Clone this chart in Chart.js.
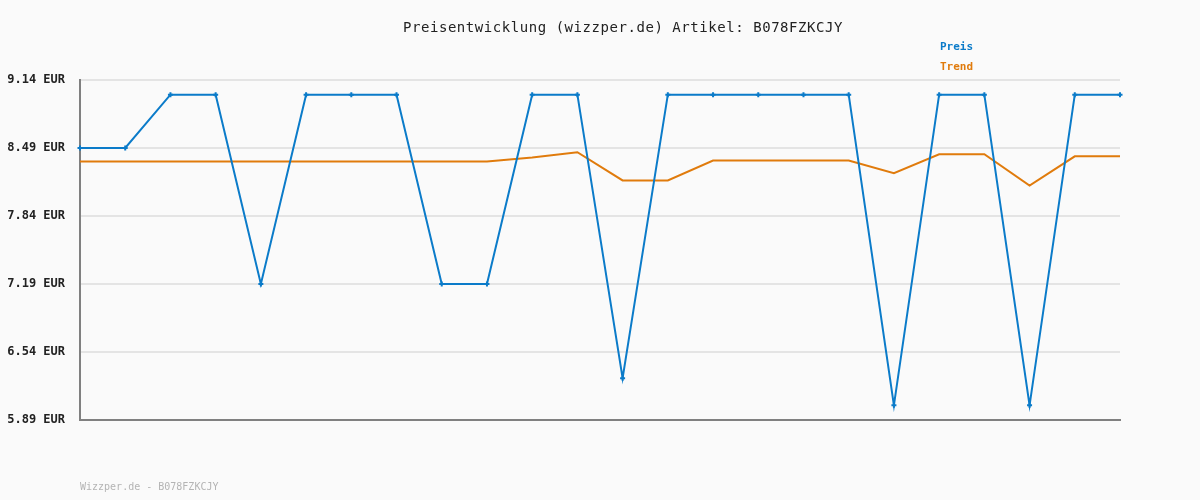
<!DOCTYPE html>
<html>
<head>
<meta charset="utf-8">
<script src="https://cdn.jsdelivr.net/npm/chart.js@4/dist/chart.umd.min.js"></script>
<style>
  html, body { margin: 0; padding: 0; background: #fafafa; }
  #wrap { width: 1200px; height: 500px; }
</style>
</head>
<body>
<div id="wrap"><canvas id="chart" width="1200" height="500"></canvas></div>
<script>
// data
const labels = ['1','2','3','4','5','6','7','8','9','10','11','12','13','14','15','16','17','18','19','20','21','22','23','24']
const preis = [8.49, 8.49, 9.00, 9.00, 7.19, 9.00, 9.00, 9.00, 7.19, 7.19, 9.00, 9.00, 6.29, 9.00, 9.00, 9.00, 9.00, 9.00, 6.03, 9.00, 9.00, 6.03, 9.00, 9.00]
const trend = [8.36, 8.36, 8.36, 8.36, 8.36, 8.36, 8.36, 8.36, 8.36, 8.36, 8.40, 8.45, 8.18, 8.18, 8.37, 8.37, 8.37, 8.37, 8.25, 8.43, 8.43, 8.13, 8.41, 8.41]
const yTicks = [5.89, 6.54, 7.19, 7.84, 8.49, 9.14]
const titleText = 'Preisentwicklung (wizzper.de) Artikel: B078FZKCJY'
const footerText = 'Wizzper.de - B078FZKCJY'

const mono = '"DejaVu Sans Mono", "Liberation Mono", monospace'

// title, legend and footer drawn as plain text
const decor = {
    id: 'decor',
    afterDraw(chart) {
        const c = chart.ctx
        c.save()
        c.textBaseline = 'middle'
        c.textAlign = 'left'
        c.fillStyle = '#222'
        c.font = '14px ' + mono
        c.letterSpacing = '0.55px'
        c.fillText(titleText, 403, 28)
        c.letterSpacing = '0px'
        c.font = 'bold 11px ' + mono
        chart.data.datasets.forEach((ds, i) => {
            c.fillStyle = ds.borderColor
            c.fillText(ds.label, 940, 47 + i * 20)
        })
        c.fillStyle = '#b4b4b4'
        c.font = '10px ' + mono
        c.fillText(footerText, 80, 487)
        c.restore()
    }
}

new Chart(document.getElementById('chart'), {
    type: 'line',
    data: {
        labels: labels,
        datasets: [
            {
                label: 'Preis',
                data: preis,
                borderColor: '#0b7bc9',
                backgroundColor: '#0b7bc9',
                borderWidth: 2,
                pointStyle: 'cross',
                pointRadius: 2.5,
                pointBorderWidth: 2,
                tension: 0
            },
            {
                label: 'Trend',
                data: trend,
                borderColor: '#e07b0c',
                backgroundColor: '#e07b0c',
                borderWidth: 2,
                pointRadius: 0,
                tension: 0
            }
        ]
    },
    options: {
        responsive: false,
        animation: false,
        layout: { padding: { top: 80, right: 80, bottom: 80, left: 0 } },
        plugins: {
            legend: { display: false },
            title: { display: false },
            tooltip: { enabled: false }
        },
        scales: {
            x: {
                offset: false,
                ticks: { display: false },
                grid: { display: false, drawTicks: false },
                border: { display: true, color: '#808080', width: 2 },
                afterFit: s => { s.height = 0 }
            },
            y: {
                min: 5.89,
                max: 9.14,
                afterBuildTicks: s => { s.ticks = yTicks.map(v => ({ value: v })) },
                afterFit: s => { s.width = 80 },
                ticks: {
                    padding: 15,
                    color: '#222',
                    font: { family: mono, size: 12, weight: 'bold' },
                    callback: v => v.toFixed(2) + ' EUR'
                },
                grid: { color: '#e4e4e4', lineWidth: 2, drawTicks: false },
                border: { display: true, color: '#808080', width: 2 }
            }
        }
    },
    plugins: [decor]
})
</script>
</body>
</html>
